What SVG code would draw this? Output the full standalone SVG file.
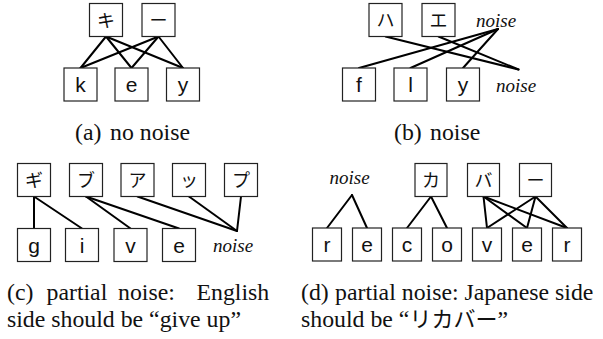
<svg xmlns="http://www.w3.org/2000/svg" width="603" height="339" viewBox="0 0 603 339">
<style>
.box{fill:#fff;stroke:#222;stroke-width:1.2}
.lab{font-family:"Liberation Sans",Arial,sans-serif;font-size:21px;text-anchor:middle;fill:#111}
.jp{font-family:"Noto Sans CJK JP",sans-serif;font-size:18px;text-anchor:middle;fill:#111}
.noise{font-family:"Liberation Serif","Times New Roman","DejaVu Serif",serif;font-style:italic;font-size:19px;fill:#111}
.cap{font-family:"Liberation Serif","Times New Roman","DejaVu Serif",serif;font-size:23.8px;fill:#111}
.capjp{font-family:"Noto Sans CJK JP",sans-serif;font-size:22px}
.edges line{stroke:#000;stroke-width:2;stroke-linecap:round}
</style>
<rect width="603" height="339" fill="#fff"/>

<g class="edges" id="connectors">
  <line x1="106" y1="36.5" x2="80.5" y2="68"/>
  <line x1="106" y1="36.5" x2="131.5" y2="68"/>
  <line x1="106" y1="36.5" x2="183" y2="68"/>
  <line x1="158.5" y1="36.5" x2="80.5" y2="68"/>
  <line x1="158.5" y1="36.5" x2="131.5" y2="68"/>
  <line x1="158.5" y1="36.5" x2="183" y2="68"/>
  <line x1="385.5" y1="36.5" x2="518.5" y2="69.5"/>
  <line x1="438.5" y1="36.5" x2="518.5" y2="69.5"/>
  <line x1="359" y1="68" x2="498" y2="29"/>
  <line x1="410.5" y1="68" x2="498" y2="29"/>
  <line x1="463" y1="68" x2="498" y2="29"/>
  <line x1="34" y1="196.5" x2="34" y2="228.5"/>
  <line x1="34" y1="196.5" x2="82" y2="228.5"/>
  <line x1="86" y1="196.5" x2="130.5" y2="228.5"/>
  <line x1="86" y1="196.5" x2="179" y2="228.5"/>
  <line x1="137.5" y1="196.5" x2="237" y2="231"/>
  <line x1="189" y1="196.5" x2="237" y2="231"/>
  <line x1="241" y1="196.5" x2="237" y2="231"/>
  <line x1="352" y1="195" x2="327" y2="228"/>
  <line x1="352" y1="195" x2="367" y2="228"/>
  <line x1="431" y1="196.5" x2="407" y2="228"/>
  <line x1="431" y1="196.5" x2="447" y2="228"/>
  <line x1="483.5" y1="196.5" x2="487" y2="228"/>
  <line x1="483.5" y1="196.5" x2="527" y2="228"/>
  <line x1="483.5" y1="196.5" x2="567" y2="228"/>
  <line x1="535.5" y1="196.5" x2="487" y2="228"/>
  <line x1="535.5" y1="196.5" x2="527" y2="228"/>
  <line x1="535.5" y1="196.5" x2="567" y2="228"/>
</g>

<g id="a-ki"><rect class="box" x="89.5" y="3.5" width="33" height="33"/><text class="jp" x="106" y="27">キ</text></g>
<g id="a-bar"><rect class="box" x="142" y="3.5" width="33" height="33"/><text class="jp" x="158.5" y="27">ー</text></g>
<g id="a-k"><rect class="box" x="64" y="68" width="33" height="33"/><text class="lab" x="80.5" y="92">k</text></g>
<g id="a-e"><rect class="box" x="115" y="68" width="33" height="33"/><text class="lab" x="131.5" y="92">e</text></g>
<g id="a-y"><rect class="box" x="166.5" y="68" width="33" height="33"/><text class="lab" x="183" y="92">y</text></g>

<g id="b-ha"><rect class="box" x="369" y="3.5" width="33" height="33"/><text class="jp" x="385.5" y="27">ハ</text></g>
<g id="b-e"><rect class="box" x="422" y="3.5" width="33" height="33"/><text class="jp" x="438.5" y="27">エ</text></g>
<g id="b-noise1"><text class="noise" x="476" y="27">noise</text></g>
<g id="b-f"><rect class="box" x="342.5" y="68" width="33" height="33"/><text class="lab" x="359" y="92">f</text></g>
<g id="b-l"><rect class="box" x="394" y="68" width="33" height="33"/><text class="lab" x="410.5" y="92">l</text></g>
<g id="b-y"><rect class="box" x="446.5" y="68" width="33" height="33"/><text class="lab" x="463" y="92">y</text></g>
<g id="b-noise2"><text class="noise" x="496" y="92">noise</text></g>

<g id="c-gi"><rect class="box" x="17.5" y="163.5" width="33" height="33"/><text class="jp" x="34" y="187">ギ</text></g>
<g id="c-bu"><rect class="box" x="69.5" y="163.5" width="33" height="33"/><text class="jp" x="86" y="187">ブ</text></g>
<g id="c-a"><rect class="box" x="121" y="163.5" width="33" height="33"/><text class="jp" x="137.5" y="187">ア</text></g>
<g id="c-tsu"><rect class="box" x="172.5" y="163.5" width="33" height="33"/><text class="jp" x="189" y="187">ッ</text></g>
<g id="c-pu"><rect class="box" x="224.5" y="163.5" width="33" height="33"/><text class="jp" x="241" y="187">プ</text></g>
<g id="c-g"><rect class="box" x="17.5" y="228.5" width="33" height="33"/><text class="lab" x="34" y="252.5">g</text></g>
<g id="c-i"><rect class="box" x="65.5" y="228.5" width="33" height="33"/><text class="lab" x="82" y="252.5">i</text></g>
<g id="c-v"><rect class="box" x="114" y="228.5" width="33" height="33"/><text class="lab" x="130.5" y="252.5">v</text></g>
<g id="c-e"><rect class="box" x="162.5" y="228.5" width="33" height="33"/><text class="lab" x="179" y="252.5">e</text></g>
<g id="c-noise"><text class="noise" x="213" y="252">noise</text></g>

<g id="d-noise"><text class="noise" x="329.5" y="184">noise</text></g>
<g id="d-ka"><rect class="box" x="415" y="163.5" width="32" height="33"/><text class="jp" x="431" y="187">カ</text></g>
<g id="d-ba"><rect class="box" x="467.5" y="163.5" width="32" height="33"/><text class="jp" x="483.5" y="187">バ</text></g>
<g id="d-bar"><rect class="box" x="519.5" y="163.5" width="32" height="33"/><text class="jp" x="535.5" y="187">ー</text></g>
<g id="d-r1"><rect class="box" x="312.5" y="228" width="29" height="33"/><text class="lab" x="327" y="252">r</text></g>
<g id="d-e1"><rect class="box" x="352.5" y="228" width="29" height="33"/><text class="lab" x="367" y="252">e</text></g>
<g id="d-c"><rect class="box" x="392.5" y="228" width="29" height="33"/><text class="lab" x="407" y="252">c</text></g>
<g id="d-o"><rect class="box" x="432.5" y="228" width="29" height="33"/><text class="lab" x="447" y="252">o</text></g>
<g id="d-v"><rect class="box" x="472.5" y="228" width="29" height="33"/><text class="lab" x="487" y="252">v</text></g>
<g id="d-e2"><rect class="box" x="512.5" y="228" width="29" height="33"/><text class="lab" x="527" y="252">e</text></g>
<g id="d-r2"><rect class="box" x="552.5" y="228" width="29" height="33"/><text class="lab" x="567" y="252">r</text></g>

<g id="captions">
  <text class="cap" y="140"><tspan x="75">(a)</tspan><tspan x="110">no noise</tspan></text>
  <text class="cap" y="140"><tspan x="394">(b)</tspan><tspan x="430">noise</tspan></text>
  <text class="cap" y="300"><tspan x="7">(c)</tspan><tspan x="46.5">partial</tspan><tspan x="118">noise:</tspan><tspan x="196.5">English</tspan></text>
  <text class="cap" x="7" y="326.5">side should be “give up”</text>
  <text class="cap" y="300"><tspan x="301">(d)</tspan><tspan x="335">partial noise: Japanese side</tspan></text>
  <text class="cap" x="301" y="326.5">should be “<tspan class="capjp">リカバー</tspan>”</text>
</g>
</svg>
